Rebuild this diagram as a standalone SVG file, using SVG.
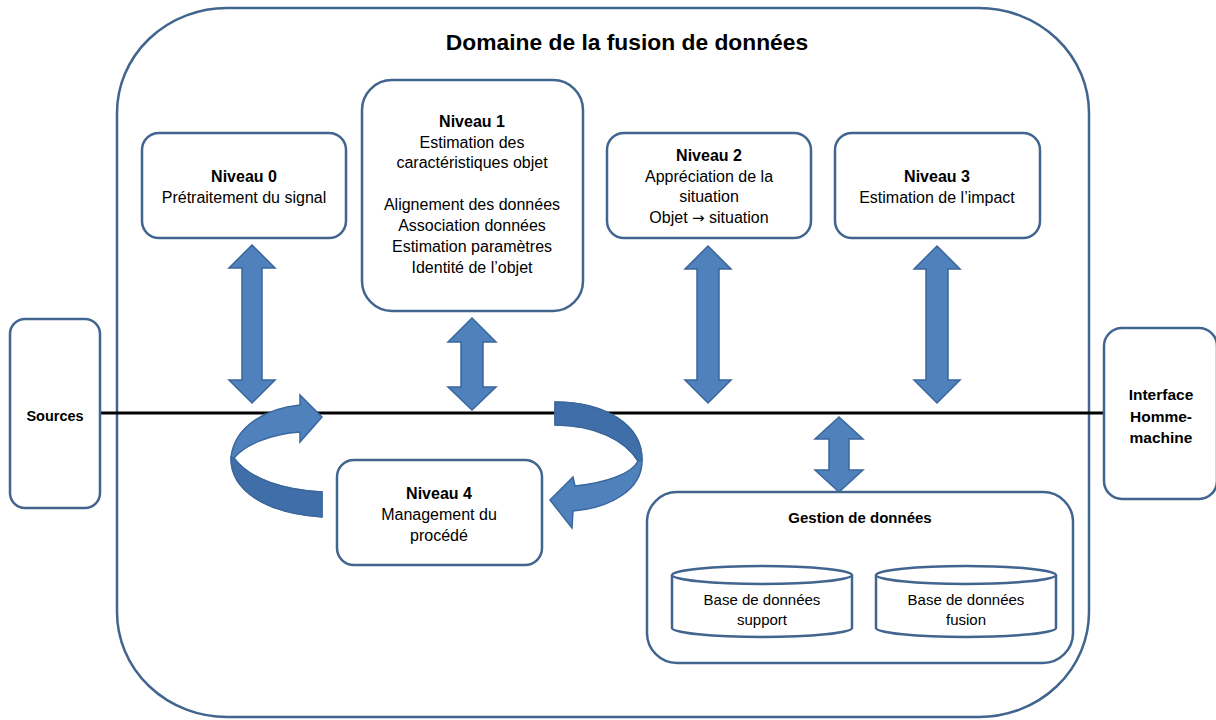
<svg xmlns="http://www.w3.org/2000/svg" width="1216" height="720" viewBox="0 0 1216 720">
<style>
.box{fill:#fff;stroke:#41658f;stroke-width:2.5}
.t{font-family:"Liberation Sans",Arial,sans-serif;font-size:16px;fill:#000;text-anchor:middle}
.s{font-size:15px}
.b{font-weight:bold}
.arr{fill:#4f81bd;stroke:#3a679c;stroke-width:1.5;stroke-linejoin:miter}
.dark{fill:#3f6ea8;stroke:#3a679c;stroke-width:1.2}
</style>
<rect width="1216" height="720" fill="#fff"/>
<g id="domaine">
<rect x="117" y="8" width="972" height="709" rx="110" ry="105" class="box"/>
<text x="627" y="50" class="t b" style="font-size:22.8px">Domaine de la fusion de données</text>
</g>
<g id="connectors">
<line x1="100" y1="413" x2="1104" y2="413" stroke="#000" stroke-width="3"/>
<path class="arr" d="M252,245 L275,268 L262,268 L262,380 L275,380 L252,403 L229,380 L242,380 L242,268 L229,268 Z"/>
<path class="arr" d="M472,318 L496,342 L483,342 L483,387 L496,387 L472,410 L448,387 L461,387 L461,342 L448,342 Z"/>
<path class="arr" d="M708,246 L731,269 L719,269 L719,380 L731,380 L708,403 L685,380 L697,380 L697,269 L685,269 Z"/>
<path class="arr" d="M937,246 L960,269 L948,269 L948,380 L960,380 L937,403 L914,380 L926,380 L926,269 L914,269 Z"/>
<path class="arr" d="M839,417 L863,439 L849,439 L849,470 L863,470 L839,492 L815,470 L829,470 L829,439 L815,439 Z"/>
<path class="arr" d="M322,417 L300,395 L300,405 C268,408 235,425 231,457 C230,490 265,513 322,517 L322,492 C285,490 250,480 234,458 C245,445 270,434 300,432 L300,442 Z"/>
<path class="dark" d="M231,457 C230,490 265,513 322,517 L322,492 C285,490 250,480 234,458 Z"/>
<path class="arr" d="M550,500 L573,477 L575,486 C605,483 632,474 638,461 C625,440 595,425 555,425 L555,402 C605,402 643,425 642,461 C642,490 610,508 573,511 L572,528 Z"/>
<path class="dark" d="M555,402 C605,402 643,425 642,461 L638,461 C625,440 595,425 555,425 Z"/>
</g>
<g id="sources">
<rect x="10" y="319" width="90" height="189" rx="15" class="box"/>
<text x="55" y="421" class="t b" style="font-size:14.5px">Sources</text>
</g>
<g id="ihm">
<rect x="1104" y="328" width="113" height="171" rx="18" class="box"/>
<text x="1161" y="400" class="t b" style="font-size:15.5px">Interface</text>
<text x="1161" y="422" class="t b" style="font-size:15.5px">Homme-</text>
<text x="1161" y="443" class="t b" style="font-size:15.5px">machine</text>
</g>
<g id="niveau0">
<rect x="142" y="133" width="204" height="105" rx="17" class="box"/>
<text x="244" y="182" class="t b">Niveau  0</text>
<text x="244" y="203" class="t">Prétraitement du signal</text>
</g>
<g id="niveau1">
<rect x="362" y="80" width="221" height="231" rx="30" class="box"/>
<text x="472" y="127" class="t b">Niveau  1</text>
<text x="472" y="148" class="t">Estimation des</text>
<text x="472" y="168" class="t">caractéristiques objet</text>
<text x="472" y="210" class="t">Alignement des données</text>
<text x="472" y="231" class="t">Association données</text>
<text x="472" y="252" class="t">Estimation paramètres</text>
<text x="472" y="273" class="t">Identité de l’objet</text>
</g>
<g id="niveau2">
<rect x="607" y="133" width="204" height="105" rx="17" class="box"/>
<text x="709" y="161" class="t b">Niveau  2</text>
<text x="709" y="182" class="t">Appréciation de la</text>
<text x="709" y="202" class="t">situation</text>
<text x="709" y="223" class="t">Objet <tspan style="font-family:'DejaVu Sans',sans-serif;font-size:15px">→</tspan> situation</text>
</g>
<g id="niveau3">
<rect x="835" y="133" width="205" height="105" rx="17" class="box"/>
<text x="937" y="182" class="t b">Niveau 3</text>
<text x="937" y="203" class="t">Estimation de l’impact</text>
</g>
<g id="niveau4">
<rect x="337" y="460" width="205" height="105" rx="17" class="box"/>
<text x="439" y="499" class="t b">Niveau  4</text>
<text x="439" y="520" class="t">Management du</text>
<text x="439" y="541" class="t">procédé</text>
</g>
<g id="gestion">
<rect x="647" y="492" width="426" height="171" rx="30" class="box"/>
<text x="860" y="523" class="t b s">Gestion de données</text>
</g>
<g id="bd-support">
<path class="box" d="M672,575 L672,628 A90,9 0 0 0 852,628 L852,575"/>
<ellipse cx="762" cy="575" rx="90" ry="9" class="box"/>
<text x="762" y="605" class="t s">Base de données</text>
<text x="762" y="625" class="t s">support</text>
</g>
<g id="bd-fusion">
<path class="box" d="M876,575 L876,628 A90,9 0 0 0 1056,628 L1056,575"/>
<ellipse cx="966" cy="575" rx="90" ry="9" class="box"/>
<text x="966" y="605" class="t s">Base de données</text>
<text x="966" y="625" class="t s">fusion</text>
</g>
</svg>
